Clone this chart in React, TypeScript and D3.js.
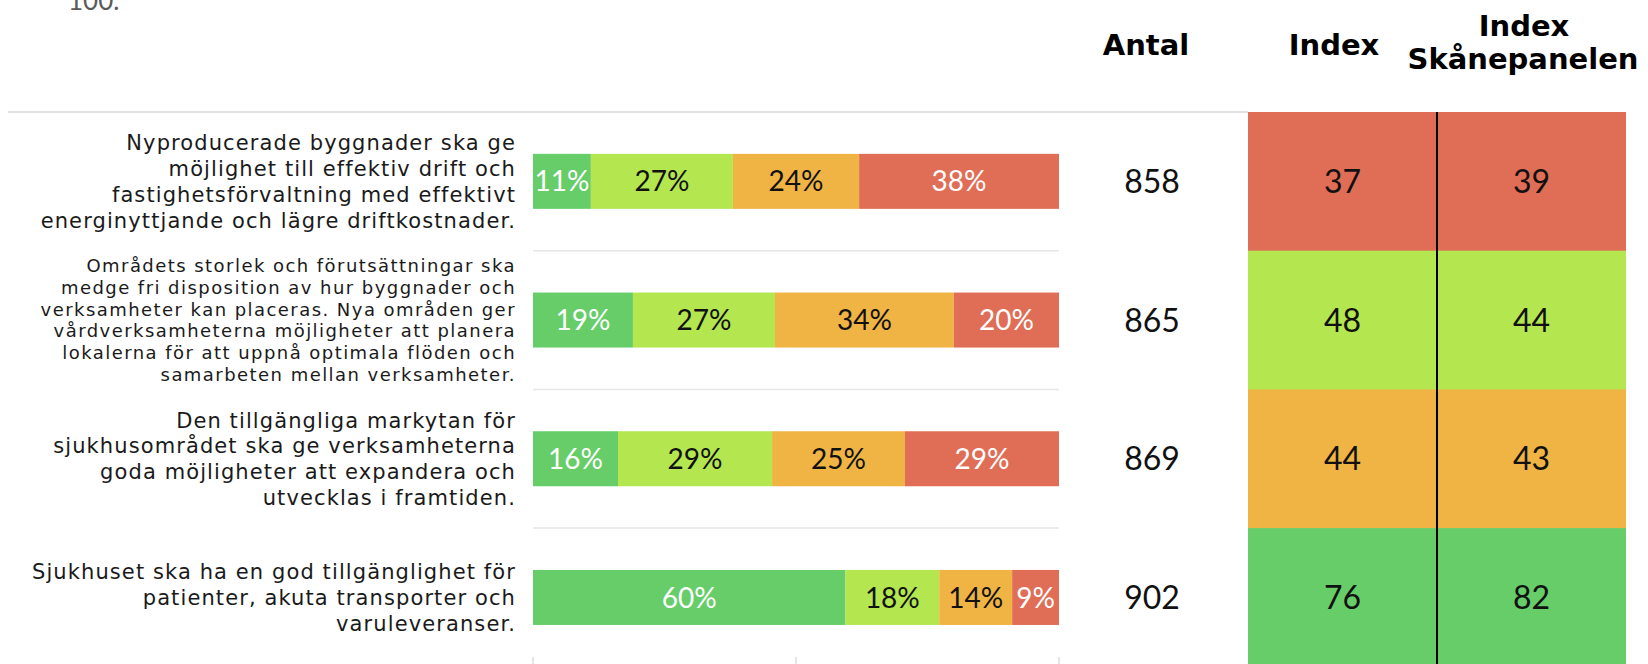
import React from "react";
import * as d3 from "d3";

const categories = [
  ["Nyproducerade byggnader ska ge", "möjlighet till effektiv drift och", "fastighetsförvaltning med effektivt", "energinyttjande och lägre driftkostnader."],
  ["Områdets storlek och förutsättningar ska", "medge fri disposition av hur byggnader och", "verksamheter kan placeras. Nya områden ger", "vårdverksamheterna möjligheter att planera", "lokalerna för att uppnå optimala flöden och", "samarbeten mellan verksamheter."],
  ["Den tillgängliga markytan för", "sjukhusområdet ska ge verksamheterna", "goda möjligheter att expandera och", "utvecklas i framtiden."],
  ["Sjukhuset ska ha en god tillgänglighet för", "patienter, akuta transporter och", "varuleveranser."],
];
const series1 = [11, 19, 16, 60];
const series2 = [27, 27, 29, 18];
const series3 = [24, 34, 25, 14];
const series4 = [38, 20, 29, 9];
const antal = [858, 865, 869, 902];
const indexValues = [37, 48, 44, 76];
const indexSkane = [39, 44, 43, 82];
const indexLevel = [3, 1, 2, 0];
const headers = ["Antal", "Index", "Index", "Skånepanelen"];
const topNote = "100.";
const axisTicks = [0, 50, 100];

const COLORS = ["#66cd69", "#b3e64f", "#efb443", "#e06d56"];
const LABEL_COLORS = ["#ffffff", "#111111", "#111111", "#ffffff"];

export default function App() {
  const W = 1648;
  const H = 664;
  const series = [series1, series2, series3, series4];
  const rows = d3.range(categories.length);
  const y = d3.scaleBand<number>().domain(rows).range([112, 666.8]).paddingInner(0);
  const band = y.bandwidth();
  const barH = 55;
  const x0 = 533;
  const x1 = 1059;
  const heatX = d3.scaleBand<string>().domain(["idx", "skane"]).range([1248, 1626]);
  const antalX = 1152;
  const numFont = "Lato, 'Open Sans', sans-serif";
  const labelFont = "'DejaVu Sans', sans-serif";
  const axisX = d3.scaleLinear().domain([0, 100]).range([x0, x1]);

  return (
    <svg width={W} height={H} style={{ position: "absolute", left: 0, top: 0, display: "block", background: "#fff" }}>
      <text x={68} y={10} fontFamily={numFont} fontSize={26} fill="#5a5a5a">{topNote}</text>

      {/* headers */}
      <g fontFamily="'DejaVu Sans', sans-serif" fontWeight="bold" fontSize={29} fill="#000" textAnchor="middle">
        <text x={antalX - 6} y={55}>{headers[0]}</text>
        <text x={1334} y={55}>{headers[1]}</text>
        <text x={1524} y={36}>{headers[2]}</text>
        <text x={1523} y={69}>{headers[3]}</text>
      </g>

      <line x1={8} x2={1248} y1={112} y2={112} stroke="#e2e2e2" strokeWidth={2} />

      {rows.map((r) => {
        const cy = (y(r) as number) + band / 2;
        const vals = series.map((s) => s[r]);
        const total = d3.sum(vals);
        const xs = d3.scaleLinear().domain([0, total]).range([x0, x1]);
        const cum = d3.cumsum(vals);
        const lines = categories[r];
        const small = lines.length > 4;
        const fs = small ? 18 : 21;
        const step = small ? 21.7 : 25.8;
        const ls = small ? 1.45 : 1.1;
        return (
          <g key={r}>
            {r > 0 && (
              <line x1={x0} x2={x1} y1={y(r) as number} y2={y(r) as number} stroke="#e6e6e6" strokeWidth={1.5} />
            )}
            {lines.map((ln, i) => (
              <text
                key={i}
                x={516}
                y={cy + (i - (lines.length - 1) / 2) * step}
                dy="0.36em"
                textAnchor="end"
                fontFamily={labelFont}
                fontSize={fs}
                letterSpacing={ls}
                fill="#1a1a1a"
              >
                {ln}
              </text>
            ))}
            {vals.map((v, k) => {
              const a = xs(cum[k] - v);
              const b = xs(cum[k]);
              return (
                <g key={k}>
                  <rect x={a} y={cy - barH / 2} width={b - a} height={barH} fill={COLORS[k]} />
                  <text
                    x={(a + b) / 2}
                    y={cy}
                    dy="0.36em"
                    textAnchor="middle"
                    fontFamily={numFont}
                    fontSize={28}
                    fill={LABEL_COLORS[k]}
                  >
                    {v}%
                  </text>
                </g>
              );
            })}
            <text x={antalX} y={cy} dy="0.36em" textAnchor="middle" fontFamily={numFont} fontSize={32} fill="#111">
              {antal[r]}
            </text>
            {(["idx", "skane"] as const).map((c) => (
              <g key={c}>
                <rect
                  x={heatX(c) as number}
                  y={y(r) as number}
                  width={heatX.bandwidth()}
                  height={band + 0.5}
                  fill={COLORS[indexLevel[r]]}
                />
                <text
                  x={(heatX(c) as number) + heatX.bandwidth() / 2}
                  y={cy}
                  dy="0.36em"
                  textAnchor="middle"
                  fontFamily={numFont}
                  fontSize={32}
                  fill="#111"
                >
                  {c === "idx" ? indexValues[r] : indexSkane[r]}
                </text>
              </g>
            ))}
          </g>
        );
      })}

      <line x1={heatX("skane") as number} x2={heatX("skane") as number} y1={112} y2={H} stroke="#000" strokeWidth={2} />

      {axisTicks.map((t) => (
        <line key={t} x1={axisX(t)} x2={axisX(t)} y1={657} y2={H} stroke="#dcdcdc" strokeWidth={1.5} />
      ))}
    </svg>
  );
}
